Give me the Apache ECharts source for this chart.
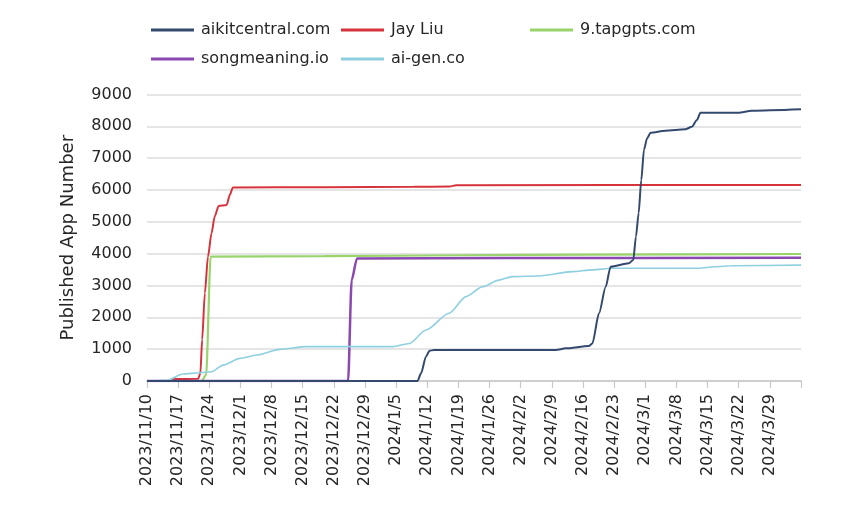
<!DOCTYPE html>
<html>
<head>
<meta charset="utf-8">
<script src="https://cdn.jsdelivr.net/npm/echarts@6/dist/echarts.min.js"></script>
<style>
html,body{margin:0;padding:0;background:#fff;}
#c{width:852px;height:516px;}
</style>
</head>
<body>
<div id="c"></div>
<script>
// x values are days since 2023/11/10
var tickLabels = ['2023/11/10','2023/11/17','2023/11/24','2023/12/1','2023/12/8','2023/12/15','2023/12/22','2023/12/29','2024/1/5','2024/1/12','2024/1/19','2024/1/26','2024/2/2','2024/2/9','2024/2/16','2024/2/23','2024/3/1','2024/3/8','2024/3/15','2024/3/22','2024/3/29'];
var seriesNames = ['aikitcentral.com','Jay Liu','9.tapgpts.com','songmeaning.io','ai-gen.co'];

var aikitcentral = [[0,0],[60.8,0],[61.6,240],[62.7,765],[63.5,950],[64.5,975],[91.9,975],[94.1,1025],[99.3,1100],[100.1,1180],[101.6,2125],[103.1,2960],[104.2,3590],[108.3,3700],[109.3,3800],[109.9,4535],[110.5,5270],[111.1,6315],[111.7,7260],[112.4,7625],[113.2,7800],[116.5,7865],[121,7905],[122.5,7990],[123.6,8200],[124.4,8430],[133,8430],[135.9,8490],[147,8535]];
var jayLiu = [[0,0],[5,0],[6,60],[11.5,70],[12,250],[12.4,1300],[13,2760],[13.7,3900],[14.5,4640],[15.2,5160],[16.1,5500],[17.9,5530],[18.6,5840],[19.3,6080],[40,6090],[60,6100],[68,6110],[69.5,6150],[147,6160]];
var tapgpts = [[0,0],[12.3,0],[13.3,200],[14.3,3910],[40,3920],[70,3950],[100,3970],[147,3990]];
var songmeaning = [[0,0],[45.2,0],[46,3170],[47.2,3850],[80,3860],[147,3870]];
var aigen = [[0,0],[4.4,20],[8.1,220],[11.9,260],[14.5,290],[17.1,500],[20.9,710],[24.6,815],[29.8,995],[35.8,1080],[43.3,1080],[55.2,1080],[59,1180],[62.7,1600],[67.9,2130],[71.7,2650],[75.4,2960],[79.1,3170],[82.1,3280],[88.1,3300],[95.6,3435],[100,3490],[104.6,3540],[124,3540],[127.7,3590],[131.5,3620],[147,3640]];

var colors = ['#34496E','#D6333B','#98D36B','#8A48B0','#8ECFE0'];
var widths = [2,2,2.2,2.5,1.6];
var dataList = [aikitcentral, jayLiu, tapgpts, songmeaning, aigen];
var legendPos = [[151,21],[341,21],[530,21],[151,50],[341,50]];
var FONT = 'DejaVu Sans';

var chart = echarts.init(document.getElementById('c'));
var legends = seriesNames.map(function(n,i){
  return {
    data:[n], left:legendPos[i][0], top:legendPos[i][1], padding:0,
    icon:'rect', itemWidth:43, itemHeight:3,
    textStyle:{fontFamily:FONT, fontSize:16, color:'#262626', lineHeight:18, padding:[0,0,0,2]}
  };
});
var series = seriesNames.map(function(n,i){
  return {
    name:n, type:'line', data:dataList[i], showSymbol:false, symbol:'none',
    smooth:0.25, smoothMonotone:'x',
    lineStyle:{color:colors[i], width:widths[i]}, itemStyle:{color:colors[i]},
    z: i===0 ? 10 : 2+i
  };
});
chart.setOption({
  animation:false,
  backgroundColor:'#fff',
  legend:legends,
  grid:{left:147, right:51, top:94.5, bottom:135, containLabel:false},
  xAxis:{
    type:'value', min:0, max:147, interval:7,
    axisLine:{show:true, lineStyle:{color:'#C8C8C8', width:1.5}},
    axisTick:{show:true, length:7, lineStyle:{color:'#C8C8C8', width:1.2}},
    splitLine:{show:false},
    axisLabel:{
      rotate:90, margin:13, fontFamily:FONT, fontSize:16, color:'#262626',
      showMaxLabel:true, showMinLabel:true,
      formatter:function(v){ var k=Math.round(v/7); return tickLabels[k] || ''; }
    }
  },
  yAxis:{
    type:'value', min:0, max:9000, interval:1000,
    name:'Published App Number', nameLocation:'middle', nameGap:70, nameRotate:90,
    nameTextStyle:{fontFamily:FONT, fontSize:18, color:'#262626'},
    axisLine:{show:false}, axisTick:{show:false},
    splitLine:{show:true, lineStyle:{color:'#DCDCDC', width:1.5}},
    axisLabel:{margin:15, fontFamily:FONT, fontSize:16, color:'#262626',
      formatter:function(v){ return String(v); }}
  },
  series:series
});
</script>
</body>
</html>
